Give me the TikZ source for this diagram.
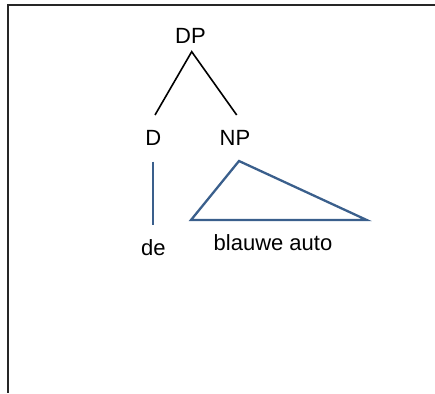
\documentclass[tikz,border=0pt]{standalone}
\usepackage{fontspec}
\setmainfont{Liberation Sans}
\definecolor{treeblue}{RGB}{58,95,140}
\begin{document}
\begin{tikzpicture}[x=1pt,y=-1pt,
  lbl/.style={inner sep=0pt, anchor=base, font=\fontsize{22}{26}\selectfont},
  branch/.style={line width=1.6pt, black},
  frame/.style={line width=2pt, black!85},
  roof/.style={line width=2.3pt, treeblue, line join=miter}]
  \useasboundingbox (0,0) rectangle (435,393);

  % open frame: top and left edges
  \draw[frame] (435,5) -- (8,5) -- (8,393);

  % labels
  \node[lbl] (DP) at (190.5,44) {DP};
  \node[lbl] (D)  at (153.3,145.7) {D};
  \node[lbl] (NP) at (235,145.7) {NP};
  \node[lbl] (de) at (153.3,255) {de};
  \node[lbl] (obj) at (273,250.7) {blauwe auto};

  % branch end points
  \coordinate (apex) at (191.7,51.7);
  \coordinate (dfoot) at (155,115);
  \coordinate (npfoot) at (236.7,115);
  \coordinate (dtop) at (153.3,161.7);
  \coordinate (dbot) at (153.3,225);
  \coordinate (rooftop) at (239,161);
  \coordinate (roofl) at (191,220);
  \coordinate (roofr) at (366.7,220);

  % DP branches
  \draw[branch] (dfoot) -- (apex) -- (npfoot);

  % D to its word
  \draw[roof] (dtop) -- (dbot);

  % triangle over the NP phrase
  \draw[roof] (rooftop) -- (roofl) -- (roofr) -- cycle;
\end{tikzpicture}
\end{document}
